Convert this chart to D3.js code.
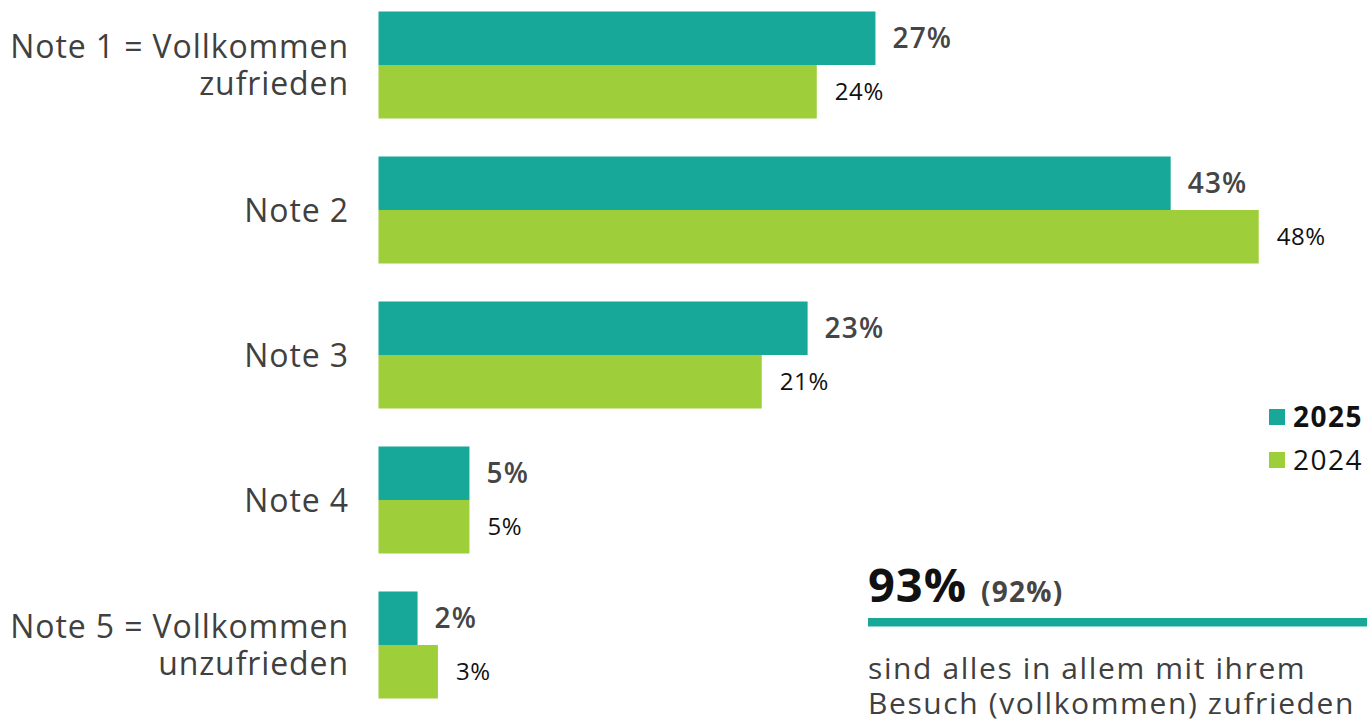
<!DOCTYPE html>
<html>
<head>
<meta charset="utf-8">
<style>
  body { margin: 0; background: #fff; }
  svg { display: block; font-family: "Open Sans", "Noto Sans", sans-serif; }
</style>
</head>
<body>
<svg width="1367" height="722"></svg>
<script src="https://d3js.org/d3.v7.min.js"></script>
<script>
// data
const categories = ["Note 1", "Note 2", "Note 3", "Note 4", "Note 5"];
const categoryLabels = [
  ["Note 1 = Vollkommen", "zufrieden"],
  ["Note 2"],
  ["Note 3"],
  ["Note 4"],
  ["Note 5 = Vollkommen", "unzufrieden"]
];
const years = ["2025", "2024"];
const values2025 = [27.1, 43.2, 23.4, 4.96, 2.13];
const values2024 = [23.9, 48.0, 20.9, 4.96, 3.24];
const labels2025 = ["27%", "43%", "23%", "5%", "2%"];
const labels2024 = ["24%", "48%", "21%", "5%", "3%"];
const totalValue = "93%";
const totalPrev = "(92%)";
const totalText = ["sind alles in allem mit ihrem", "Besuch (vollkommen) zufrieden"];

const colors = { "2025": "#18a89a", "2024": "#9ece3a" };

const svg = d3.select("svg");

const rows = categories.map((c, i) => ({
  cat: c,
  lines: categoryLabels[i],
  bars: [
    { year: "2025", value: values2025[i], label: labels2025[i] },
    { year: "2024", value: values2024[i], label: labels2024[i] }
  ]
}));

const x = d3.scaleLinear().domain([0, 48]).range([378.5, 1258.7]);
const y = d3.scaleBand().domain(categories).range([-7.5, 717.5])
  .paddingInner(0.262).paddingOuter(0.131);
const ySub = d3.scaleBand().domain(years).range([0, y.bandwidth()]);

const group = svg.append("g").selectAll("g").data(rows).enter()
  .append("g").attr("transform", d => `translate(0,${y(d.cat)})`);

group.selectAll("rect").data(d => d.bars).enter()
  .append("rect")
  .attr("x", x(0))
  .attr("y", d => ySub(d.year))
  .attr("width", d => x(d.value) - x(0))
  .attr("height", ySub.bandwidth())
  .attr("fill", d => colors[d.year]);

group.selectAll("text.val").data(d => d.bars).enter()
  .append("text")
  .attr("class", "val")
  .attr("x", d => x(d.value) + (d.year === "2025" ? 17 : 18))
  .attr("y", d => ySub(d.year) + ySub.bandwidth() / 2)
  .attr("dy", "0.36em")
  .attr("font-size", d => d.year === "2025" ? 28 : 24)
  .attr("font-weight", d => d.year === "2025" ? 600 : 400)
  .attr("letter-spacing", d => d.year === "2025" ? 1.2 : 0.6)
  .attr("fill", d => d.year === "2025" ? "#454545" : "#111")
  .text(d => d.label);

// category labels
group.each(function(d) {
  const g = d3.select(this);
  const n = d.lines.length;
  const mid = y.bandwidth() / 2;
  d.lines.forEach((line, k) => {
    g.append("text")
      .attr("x", 349)
      .attr("y", mid + (k - (n - 1) / 2) * 37)
      .attr("dy", "0.36em")
      .attr("text-anchor", "end")
      .attr("font-size", 32)
      .attr("letter-spacing", 0.9)
      .attr("fill", "#404040")
      .text(line);
  });
});

// legend
const legend = svg.append("g").selectAll("g").data(years).enter()
  .append("g").attr("transform", (d, i) => `translate(1269,${409 + i * 43})`);
legend.append("rect").attr("width", 16).attr("height", 16).attr("fill", d => colors[d]);
legend.append("text")
  .attr("x", 24).attr("y", 8).attr("dy", "0.36em")
  .attr("font-size", 28)
  .attr("letter-spacing", 1.5)
  .attr("font-weight", d => d === "2025" ? 700 : 400)
  .attr("fill", "#111")
  .text(d => d);

// summary box
const box = svg.append("g").attr("transform", "translate(868,0)");
const big = box.append("text").attr("x", 0).attr("y", 602);
big.append("tspan").attr("font-size", 47).attr("font-weight", 700).attr("letter-spacing", 1)
  .attr("fill", "#111").text(totalValue);
big.append("tspan").attr("dx", 14).attr("font-size", 28).attr("font-weight", 700)
  .attr("letter-spacing", 1.2).attr("fill", "#454545").text(totalPrev);
box.append("rect").attr("x", 0).attr("y", 618).attr("width", 499).attr("height", 8.5).attr("fill", colors["2025"]);
box.selectAll("text.desc").data(totalText).enter()
  .append("text").attr("class", "desc")
  .attr("x", 0).attr("y", (d, i) => 679 + i * 35)
  .attr("font-size", 30)
  .attr("letter-spacing", 1.6)
  .attr("fill", "#404040")
  .text(d => d);
</script>
</body>
</html>
